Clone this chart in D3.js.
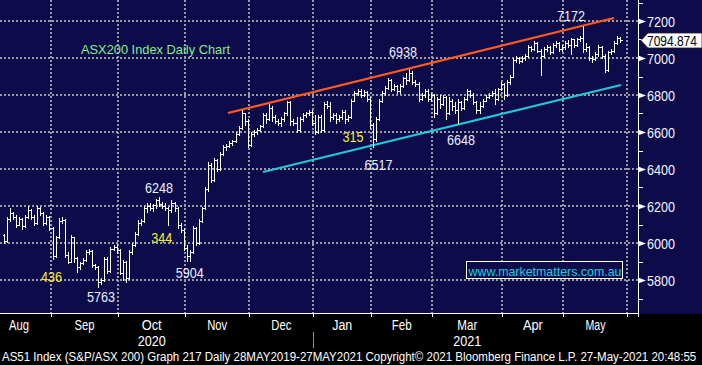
<!DOCTYPE html>
<html><head><meta charset="utf-8">
<script src="https://cdn.jsdelivr.net/npm/d3@7"></script>
<style>html,body{margin:0;padding:0;background:#000;overflow:hidden}svg{display:block}</style>
</head><body>
<svg id="c" width="702" height="365"></svg>
<script>
// ---------------- DATA ----------------
const monthNames  = ["Aug","Sep","Oct","Nov","Dec","Jan","Feb","Mar","Apr","May"];
const monthStarts = [-5,16,38,60,81,102,121,141,164,184,205]; // trading-day index of each month start
const yearNames   = ["2020","2021"];
const yearMonth   = [2,7];           // month (index in monthNames) under which the year is written
const yearSplit   = 102;             // first trading day of 2021
const yTicks      = [5800,6000,6200,6400,6600,6800,7000,7200];
const yMinor      = [5700,5900,6100,6300,6500,6700,6900,7100,7300];
const lastPrice   = 7094.874;

const opens = [
 6045,6010,6130,6160,6140,6100,6130,6090,6140,6180,6140,6110,6190,6160,6110,6140, // Aug
 6080,5930,6030,6120,6125,5935,5900,6030,5920,5870,5890,5910,5950,5955,5880,5870,5790,5800,5915,5850,5970,5980, // Sep
 5960,5840,5900,5810,5950,5990,6050,6110,6120,6190,6200,6190,6205,6230,6210,6200,6190,6180,6215,6190,6100,6070, // Oct
 5975,5930,5950,6080,6000,6120,6190,6290,6420,6340,6450,6400,6480,6520,6525,6540,6550,6590,6620,6700,6660, // Nov
 6530,6590,6600,6610,6630,6690,6670,6730,6680,6660,6650,6670,6700,6760,6660,6650,6610,6670,6690,6700,6710, // Dec
 6650,6600,6680,6610,6750,6740,6680,6690,6670,6680,6710,6670,6680,6770,6810,6820,6800,6815,6780, // Jan
 6640,6560,6670,6770,6810,6840,6880,6830,6850,6820,6850,6890,6880,6920,6870,6860,6780,6800,6820,6780, // Feb
 6800,6700,6780,6750,6790,6700,6770,6740,6720,6760,6730,6780,6820,6800,6760,6720,6740,6770,6790,6800,6810,6780,6830, // Mar
 6860,6800,6870,6900,6990,7000,6985,7000,7010,7060,7050,7080,7040,7010,7050,7060,7030,7070,7080,7050, // Apr
 7060,7080,7070,7100,7070,7100,7110,7050,7060,7000,6995,7020,7060,7010,6935,7030,7040,7080,7110  // May
];
const highs = [
 6050,6140,6190,6170,6150,6140,6135,6150,6200,6185,6150,6200,6195,6165,6150,6145,
 6085,6040,6135,6140,6130,5950,6045,6035,5925,5900,5920,5960,5965,5960,5885,5875,5810,5925,5925,5980,5990,5995,
 5965,5910,5905,5960,6000,6060,6125,6130,6200,6215,6215,6210,6240,6248,6220,6215,6195,6230,6220,6195,6110,6080,
 5990,5960,6090,6085,6130,6195,6300,6440,6430,6460,6455,6490,6530,6535,6550,6555,6600,6630,6720,6705,6670,
 6600,6610,6620,6640,6700,6700,6750,6740,6690,6670,6680,6710,6770,6770,6670,6680,6680,6700,6710,6720,6720,
 6690,6690,6690,6760,6770,6760,6700,6700,6690,6720,6720,6690,6780,6820,6832,6830,6825,6820,6790,
 6650,6680,6780,6820,6850,6890,6885,6860,6855,6860,6900,6920,6938,6930,6880,6870,6810,6830,6830,6810,
 6805,6790,6800,6800,6795,6790,6780,6760,6780,6770,6790,6830,6825,6810,6770,6760,6780,6800,6810,6820,6830,6840,6870,
 6865,6880,6910,7000,7010,7005,7010,7020,7070,7065,7090,7085,7050,7060,7070,7065,7080,7090,7085,7070,
 7090,7095,7110,7105,7110,7120,7172,7080,7065,7010,7030,7070,7065,7020,7040,7050,7090,7120,7115
];
const lows = [
 6000,6005,6120,6130,6085,6095,6075,6085,6135,6130,6100,6105,6150,6100,6105,6070,
 5915,5925,6025,6110,5925,5890,5895,5900,5845,5860,5885,5905,5940,5870,5860,5763,5780,5795,5840,5845,5960,5945,
 5830,5800,5790,5805,5940,5985,6045,6100,6115,6170,6180,6175,6190,6200,6190,6180,6100,6170,6175,6080,6060,5960,
 5904,5905,5945,5990,5995,6115,6185,6280,6330,6335,6390,6395,6475,6505,6520,6530,6545,6585,6615,6640,6520,
 6525,6580,6590,6605,6625,6650,6665,6660,6650,6640,6630,6660,6690,6640,6640,6600,6605,6660,6680,6690,6640,
 6590,6595,6600,6605,6730,6660,6670,6650,6660,6670,6650,6660,6675,6765,6800,6790,6795,6770,6620,
 6517,6550,6665,6760,6800,6835,6820,6825,6810,6810,6845,6860,6875,6860,6850,6770,6775,6790,6770,6770,
 6680,6695,6730,6745,6670,6695,6720,6700,6648,6720,6725,6775,6790,6750,6700,6700,6735,6765,6785,6795,6750,6775,6825,
 6780,6795,6860,6895,6980,6975,6980,6990,7005,7040,7045,7030,6910,7005,7040,7020,7025,7060,7040,7040,
 7050,7060,7020,7060,7065,7090,7030,7040,6990,6980,6990,7010,7000,6925,6930,7020,7035,7075,7085
];
const closes = [
 6010,6130,6160,6140,6100,6130,6090,6140,6180,6140,6110,6190,6160,6110,6140,6080,
 5930,6030,6120,6125,5935,5900,6030,5920,5870,5890,5910,5950,5955,5880,5870,5790,5800,5915,5850,5970,5980,5960,
 5840,5900,5810,5950,5990,6050,6110,6120,6190,6200,6190,6205,6230,6210,6200,6190,6180,6215,6190,6100,6070,5975,
 5930,5950,6080,6000,6120,6190,6290,6420,6340,6450,6400,6480,6520,6525,6540,6550,6590,6620,6700,6660,6530,
 6590,6600,6610,6630,6690,6670,6730,6680,6660,6650,6670,6700,6760,6660,6650,6610,6670,6690,6700,6710,6650,
 6600,6680,6610,6750,6740,6680,6690,6670,6680,6710,6670,6680,6770,6810,6820,6800,6815,6780,6640,
 6560,6670,6770,6810,6840,6880,6830,6850,6820,6850,6890,6880,6920,6870,6860,6780,6800,6820,6780,6800,
 6700,6780,6750,6790,6700,6770,6740,6720,6760,6730,6780,6820,6800,6760,6720,6740,6770,6790,6800,6810,6780,6830,6860,
 6800,6870,6900,6990,7000,6985,7000,7010,7060,7050,7080,7040,7010,7050,7060,7030,7070,7080,7050,7060,
 7080,7070,7100,7070,7100,7110,7050,7060,7000,6995,7020,7060,7010,6935,7030,7040,7080,7110,7095
];

// trend channel: [day index, price]
const upperTrend = [[74.0,6703],[200.6,7216]];
const lowerTrend = [[85.5,6384],[202.9,6854]];

// annotations: text, day index (centre), price (baseline)
const labelText  = ["6938","7172","6517","6648","6248","5904","5763"];
const labelDay   = [131.4,186.5,123.4,150.4,51.4,61.5,32.4];
const labelPrice = [7005,7200,6395,6530,6270,5811,5681];
const moveText   = ["436","344","315"];
const moveDay    = [16.2,52.3,115.0];
const movePrice  = [5789,6000,6546];

const titleText  = "ASX200 Index Daily Chart";
const siteText   = "www.marketmatters.com.au";
const footerText = "AS51 Index (S&P/ASX 200) Graph 217  Daily 28MAY2019-27MAY2021  Copyright\u00A9 2021 Bloomberg Finance L.P.  27-May-2021 20:48:55";

// ---------------- DRAW ----------------
const W = 702, H = 365, plotBottom = 313, axisX = 638;
const NAVY = "#0e0b4b";
const svg = d3.select("#c");
const x = d3.scaleLinear().domain([0, 205]).range([2.2, 627.45]);
const y = d3.scaleLinear().domain([5800, 7200]).range([280, 21]);
const narrow = "'Liberation Sans Narrow','Liberation Sans',Arial,sans-serif";
const sans = "'Liberation Sans',Arial,sans-serif";

// place a text at (tx,ty) (left/baseline) and squeeze it horizontally to a given width
function fitText(g, str, tx, ty, width, size, fill, family) {
  const t = g.append("text").attr("x", 0).attr("y", 0).attr("font-family", family)
    .attr("font-size", size).attr("fill", fill).text(str);
  const natural = t.node().getComputedTextLength();
  const sx = natural > 0 ? width / natural : 1;
  t.attr("transform", `translate(${tx},${ty}) scale(${sx},1)`);
  return t;
}

svg.append("rect").attr("width", W).attr("height", H).attr("fill", "#000");
svg.append("rect").attr("width", W).attr("height", plotBottom + 1).attr("fill", NAVY);

// grid
const grid = svg.append("g").attr("stroke", "#9a9aa0").attr("stroke-width", 2)
  .attr("stroke-dasharray", "2,2").attr("shape-rendering", "crispEdges");
grid.selectAll("line.h").data(yTicks).join("line")
  .attr("x1", 0).attr("x2", axisX).attr("y1", d => Math.round(y(d))).attr("y2", d => Math.round(y(d)));
grid.selectAll("line.v").data(monthStarts.filter(d => x(d) > 0 && x(d) < axisX)).join("line")
  .attr("y1", 0).attr("y2", plotBottom).attr("x1", d => Math.round(x(d))).attr("x2", d => Math.round(x(d)));

// trend lines
const line = d3.line().x(d => x(d[0])).y(d => y(d[1]));
svg.append("path").attr("d", line(upperTrend)).attr("stroke", "#ff5a1c").attr("stroke-width", 2.2).attr("fill", "none");
svg.append("path").attr("d", line(lowerTrend)).attr("stroke", "#22c6d6").attr("stroke-width", 2.2).attr("fill", "none");

// OHLC bars
const bars = d3.range(opens.length).map(i => ({i, o: opens[i], h: highs[i], l: lows[i], c: closes[i]}));
const bg = svg.append("g").attr("stroke", "#ffffff").attr("stroke-width", 1).attr("shape-rendering", "crispEdges");
const cx = d => Math.round(x(d.i + 0.5)) + 0.5;
bg.selectAll("line.hl").data(bars).join("line")
  .attr("x1", cx).attr("x2", cx).attr("y1", d => Math.round(y(d.h))).attr("y2", d => Math.round(y(d.l)) + 1);
bg.selectAll("line.op").data(bars).join("line")
  .attr("x1", d => cx(d) - 2).attr("x2", cx).attr("y1", d => Math.round(y(d.o)) + 0.5).attr("y2", d => Math.round(y(d.o)) + 0.5);
bg.selectAll("line.cl").data(bars).join("line")
  .attr("x1", cx).attr("x2", d => cx(d) + 2).attr("y1", d => Math.round(y(d.c)) + 0.5).attr("y2", d => Math.round(y(d.c)) + 0.5);

// annotations
svg.append("g").selectAll("text").data(labelText).join("text")
  .attr("x", (d, k) => x(labelDay[k])).attr("y", (d, k) => y(labelPrice[k]))
  .attr("text-anchor", "middle").attr("font-family", narrow).attr("font-size", 15)
  .attr("textLength", 28).attr("lengthAdjust", "spacingAndGlyphs")
  .attr("fill", "#eaf0ff").text(d => d);
svg.append("g").selectAll("text").data(moveText).join("text")
  .attr("x", (d, k) => x(moveDay[k])).attr("y", (d, k) => y(movePrice[k]))
  .attr("text-anchor", "middle").attr("font-family", narrow).attr("font-size", 15)
  .attr("textLength", 21).attr("lengthAdjust", "spacingAndGlyphs")
  .attr("fill", "#f2f22a").text(d => d);

svg.append("text").attr("x", 81).attr("y", 54).attr("font-family", sans).attr("font-size", 13.5)
  .attr("textLength", 149).attr("lengthAdjust", "spacingAndGlyphs")
  .attr("fill", "#86ec8c").text(titleText);

// watermark box
svg.append("rect").attr("x", 466.5).attr("y", 261.5).attr("width", 156).attr("height", 17)
  .attr("fill", NAVY).attr("stroke", "#ffffff").attr("stroke-width", 1);
svg.append("text").attr("x", 468.5).attr("y", 276).attr("font-family", sans).attr("font-size", 13)
  .attr("textLength", 153).attr("lengthAdjust", "spacingAndGlyphs")
  .attr("fill", "#16d0e0").text(siteText);

// axes lines
svg.append("line").attr("x1", 0).attr("x2", axisX + 1).attr("y1", plotBottom + 0.5).attr("y2", plotBottom + 0.5)
  .attr("stroke", "#fff").attr("stroke-width", 1);
svg.append("line").attr("x1", axisX + 0.5).attr("x2", axisX + 0.5).attr("y1", 0).attr("y2", plotBottom + 4)
  .attr("stroke", "#fff").attr("stroke-width", 1);
// x ticks
svg.append("g").selectAll("line").data(monthStarts.filter(d => x(d) > 0 && x(d) < axisX - 5)).join("line")
  .attr("x1", d => Math.round(x(d)) + 0.5).attr("x2", d => Math.round(x(d)) + 0.5)
  .attr("y1", plotBottom).attr("y2", plotBottom + 4).attr("stroke", "#fff").attr("stroke-width", 1);

// y axis: triangles, minor ticks, labels
svg.append("g").selectAll("path").data(yTicks).join("path")
  .attr("d", d => { const yy = Math.round(y(d)) + 0.5; return `M${axisX},${yy - 3}L${axisX + 8},${yy}L${axisX},${yy + 3}Z`; })
  .attr("fill", "#fff");
svg.append("g").selectAll("line").data(yMinor).join("line")
  .attr("x1", axisX).attr("x2", axisX + 5)
  .attr("y1", d => Math.round(y(d)) + 0.5).attr("y2", d => Math.round(y(d)) + 0.5)
  .attr("stroke", "#fff").attr("stroke-width", 1);
svg.append("g").selectAll("text").data(yTicks).join("text")
  .attr("x", 647).attr("y", d => y(d) + 5.5)
  .attr("font-family", narrow).attr("font-size", 14.5)
  .attr("textLength", 28).attr("lengthAdjust", "spacingAndGlyphs")
  .attr("fill", "#f4f4ff").text(d => d);

// last price box
const py = Math.round(y(lastPrice)) + 0.5;
svg.append("path").attr("d", `M${axisX + 3},${py}L${axisX + 10},${py - 7.5}L${W},${py - 7.5}L${W},${py + 7.5}L${axisX + 10},${py + 7.5}Z`)
  .attr("fill", "#ffffff").attr("stroke", "#222").attr("stroke-width", 0.8);
fitText(svg, d3.format(".3f")(lastPrice), 647, py + 5.2, 50, 14, "#000", narrow);

// month labels
const mid = k => (Math.max(x(monthStarts[k]), -30) + x(monthStarts[k + 1])) / 2;
svg.append("g").selectAll("text").data(monthNames).join("text")
  .attr("x", (d, k) => mid(k)).attr("y", 330).attr("text-anchor", "middle")
  .attr("font-family", narrow).attr("font-size", 14)
  .attr("textLength", 20).attr("lengthAdjust", "spacingAndGlyphs")
  .attr("fill", "#fff").text(d => d);
svg.append("g").selectAll("text").data(yearNames).join("text")
  .attr("x", (d, k) => mid(yearMonth[k])).attr("y", 346).attr("text-anchor", "middle")
  .attr("font-family", narrow).attr("font-size", 14)
  .attr("textLength", 28).attr("lengthAdjust", "spacingAndGlyphs")
  .attr("fill", "#fff").text(d => d);
svg.append("line").attr("x1", Math.round(x(yearSplit)) + 0.5).attr("x2", Math.round(x(yearSplit)) + 0.5)
  .attr("y1", 332).attr("y2", 348).attr("stroke", "#8a8a8a").attr("stroke-width", 1);

// footer
fitText(svg, footerText, 2, 361, 695, 12, "#fff", narrow);
</script>
</body></html>
